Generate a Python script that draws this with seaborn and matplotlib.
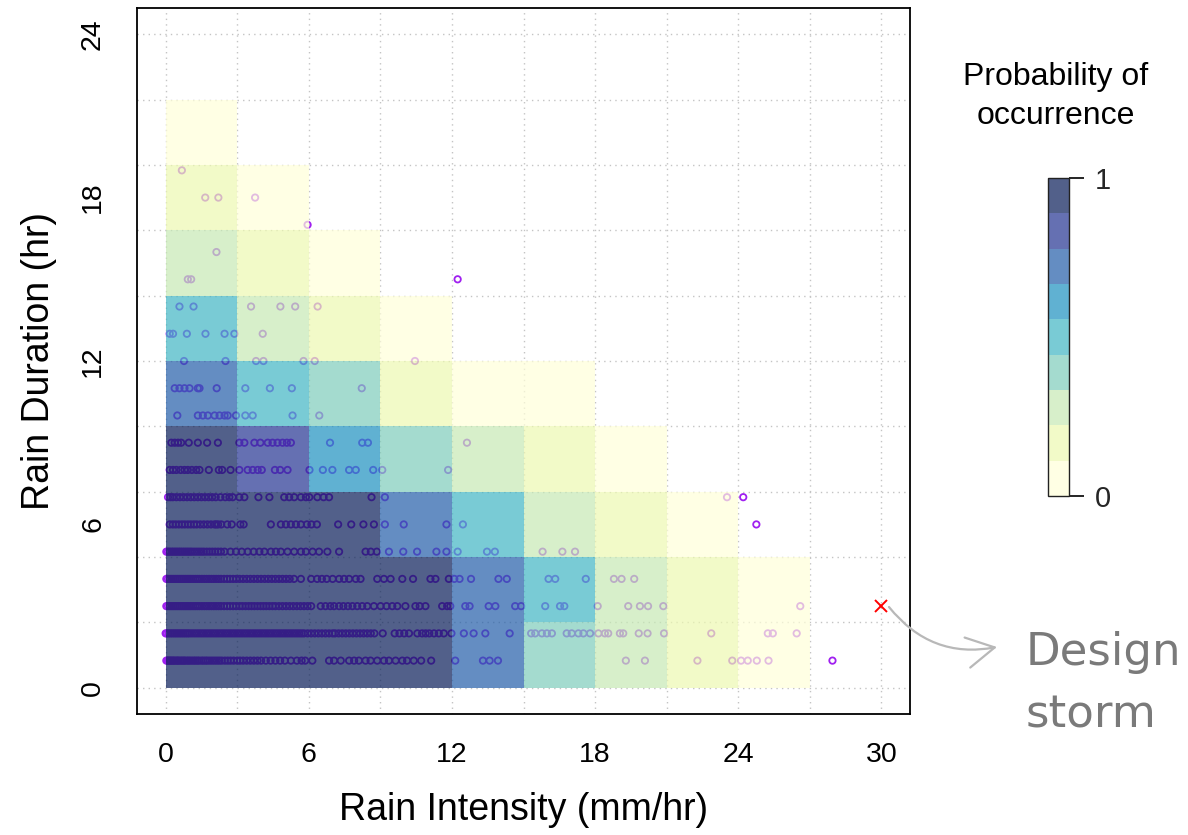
import numpy as np
import pandas as pd
import matplotlib
matplotlib.use("Agg")
import matplotlib as mpl
import matplotlib.pyplot as plt
from matplotlib.colors import ListedColormap, BoundaryNorm
from matplotlib.ticker import MultipleLocator, FixedLocator, NullLocator
import seaborn as sns

# ---------------- data ----------------
intensity_edges = [0, 3, 6, 9, 12, 15, 18, 21, 24, 27]
duration_edges = [0, 2.4, 4.8, 7.2, 9.6, 12.0, 14.4, 16.8, 19.2, 21.6]
nan = np.nan
# probability of occurrence: rows = duration bins (bottom -> top), cols = intensity bins
prob_row_0 = [0.95, 0.95, 0.95, 0.95, 0.72, 0.39, 0.28, 0.17, 0.05]
prob_row_1 = [0.95, 0.95, 0.95, 0.95, 0.72, 0.50, 0.28, 0.17, 0.05]
prob_row_2 = [0.95, 0.95, 0.95, 0.72, 0.50, 0.28, 0.17, 0.05, nan]
prob_row_3 = [0.95, 0.83, 0.61, 0.39, 0.28, 0.17, 0.05, nan, nan]
prob_row_4 = [0.72, 0.50, 0.39, 0.17, 0.05, 0.05, nan, nan, nan]
prob_row_5 = [0.50, 0.28, 0.17, 0.05, nan, nan, nan, nan, nan]
prob_row_6 = [0.28, 0.17, 0.05, nan, nan, nan, nan, nan, nan]
prob_row_7 = [0.17, 0.05, nan, nan, nan, nan, nan, nan, nan]
prob_row_8 = [0.05, nan, nan, nan, nan, nan, nan, nan, nan]

# observed storms: rain intensity (mm/hr) for each rain duration (hr)
dur_1 = [0.03, 0.08, 0.12, 0.18, 0.22, 0.28, 0.33, 0.38, 0.45, 0.5, 0.55, 0.62, 0.68, 0.75, 0.8,
         0.88, 0.95, 1.02, 1.1, 1.18, 1.25, 1.33, 1.4, 1.5, 1.58, 1.67, 1.75, 1.85, 1.95, 2.05,
         2.15, 2.25, 2.35, 2.48, 2.6, 2.72, 2.85, 3.0, 3.12, 3.25, 3.4, 3.55, 3.7, 3.85, 4.0,
         4.2, 4.4, 4.6, 4.8, 5.0, 5.25, 5.5, 5.7, 5.85, 6.15, 6.85, 7.06, 7.34, 7.69, 7.9, 8.1,
         8.38, 8.59, 8.87, 9.15, 9.36, 9.64, 9.92, 10.12, 10.4, 10.71, 11.13, 12.14, 13.3, 13.58,
         13.93, 19.29, 20.09, 22.29, 23.75, 24.12, 24.4, 24.78, 25.27, 27.95]
dur_2 = [0.0, 0.05, 0.12, 0.2, 0.28, 0.36, 0.44, 0.52, 0.6, 0.68, 0.76, 0.84, 0.92, 1.0, 1.1,
         1.2, 1.3, 1.4, 1.5, 1.6, 1.7, 1.8, 1.9, 2.0, 2.1, 2.2, 2.3, 2.4, 2.5, 2.6, 2.7, 2.8,
         2.9, 3.0, 3.1, 3.2, 3.3, 3.4, 3.5, 3.6, 3.7, 3.8, 3.9, 4.0, 4.1, 4.2, 4.3, 4.4, 4.5,
         4.6, 4.7, 4.8, 4.9, 5.0, 5.1, 5.2, 5.3, 5.4, 5.5, 5.6, 5.7, 5.8, 5.95, 6.1, 6.25, 6.4,
         6.55, 6.7, 6.85, 7.0, 7.1, 7.25, 7.4, 7.55, 7.7, 7.85, 8.0, 8.15, 8.3, 8.45, 8.6, 8.75,
         9.1, 9.6, 9.8, 10.0, 10.2, 10.55, 10.75, 10.9, 11.05, 11.25, 11.45, 11.66, 11.98, 12.5,
         12.91, 13.4, 14.42, 15.32, 15.49, 15.77, 15.98, 16.19, 16.81, 17.02, 17.3, 17.51, 17.79,
         18.14, 18.41, 18.55, 19.04, 19.18, 19.83, 20.2, 20.89, 22.87, 25.24, 25.45, 26.45]
dur_3 = [0.03, 0.1, 0.18, 0.26, 0.34, 0.42, 0.5, 0.58, 0.66, 0.74, 0.82, 0.9, 0.98, 1.06, 1.15,
         1.24, 1.33, 1.42, 1.52, 1.62, 1.72, 1.82, 1.92, 2.02, 2.12, 2.22, 2.32, 2.45, 2.58, 2.7,
         2.83, 2.96, 3.1, 3.22, 3.35, 3.48, 3.6, 3.72, 3.85, 3.98, 4.1, 4.22, 4.35, 4.48, 4.6,
         4.75, 4.9, 5.05, 5.2, 5.35, 5.5, 5.65, 5.8, 5.95, 6.1, 6.5, 6.7, 6.9, 7.06, 7.27, 7.45,
         7.64, 7.83, 8.03, 8.24, 8.45, 8.73, 9.01, 9.26, 9.5, 9.71, 10.05, 10.47, 10.65, 10.89,
         11.59, 11.8, 11.93, 12.56, 12.74, 13.54, 13.82, 14.65, 14.9, 15.91, 16.53, 16.71, 18.11,
         19.39, 19.88, 20.22, 20.86, 26.6]
dur_4 = [0.03, 0.1, 0.18, 0.26, 0.34, 0.42, 0.5, 0.58, 0.66, 0.74, 0.82, 0.9, 0.98, 1.06, 1.15,
         1.24, 1.33, 1.42, 1.52, 1.62, 1.72, 1.82, 1.92, 2.02, 2.12, 2.22, 2.32, 2.45, 2.58, 2.7,
         2.83, 2.96, 3.1, 3.25, 3.4, 3.55, 3.7, 3.85, 4.0, 4.15, 4.3, 4.45, 4.6, 4.75, 4.9, 5.05,
         5.2, 5.38, 5.67, 6.1, 6.35, 6.55, 6.75, 7.0, 7.27, 7.48, 7.69, 7.97, 8.17, 8.87, 9.15,
         9.43, 9.92, 10.37, 11.1, 11.31, 11.87, 12.1, 12.32, 12.8, 13.95, 14.3, 16.05, 16.33,
         17.61, 18.79, 19.11, 19.64]
dur_5 = [0.03, 0.1, 0.17, 0.25, 0.32, 0.4, 0.47, 0.55, 0.62, 0.7, 0.78, 0.86, 0.94, 1.02, 1.1,
         1.2, 1.3, 1.4, 1.5, 1.6, 1.72, 1.84, 1.96, 2.08, 2.2, 2.32, 2.47, 2.72, 2.95, 3.19, 3.44,
         3.69, 3.93, 4.14, 4.41, 4.62, 4.83, 5.11, 5.39, 5.67, 5.88, 6.16, 6.43, 6.78, 7.27, 8.38,
         8.6, 8.85, 9.36, 9.96, 10.54, 11.35, 11.77, 12.24, 13.47, 13.8, 15.8, 16.63, 17.16]
dur_6 = [0.17, 0.3, 0.42, 0.55, 0.68, 0.8, 0.93, 1.05, 1.18, 1.3, 1.45, 1.6, 1.75, 1.9, 2.05,
         2.12, 2.2, 2.33, 2.58, 2.77, 3.13, 3.27, 4.41, 4.83, 5.04, 5.25, 5.46, 5.67, 5.92, 6.11,
         6.34, 7.23, 7.78, 8.29, 8.73, 9.19, 9.98, 11.77, 12.46, 24.76]
dur_7 = [0.1, 0.2, 0.3, 0.45, 0.6, 0.75, 0.9, 1.05, 1.2, 1.35, 1.5, 1.65, 1.8, 1.95, 2.1, 2.3,
         2.5, 2.67, 2.81, 3.09, 3.3, 3.89, 4.35, 4.97, 5.18, 5.39, 5.67, 5.88, 6.02, 6.36, 6.62,
         6.85, 8.63, 9.19, 23.53, 24.21]
dur_8 = [0.17, 0.31, 0.45, 0.63, 0.79, 0.93, 1.1, 1.28, 1.42, 1.81, 2.23, 2.37, 2.72, 3.09, 3.44,
         3.65, 3.86, 4.03, 4.58, 4.8, 5.11, 6.03, 6.59, 6.99, 7.69, 7.97, 8.7, 9.08, 11.84]
dur_9 = [0.24, 0.38, 0.52, 0.65, 0.97, 1.35, 1.74, 2.19, 3.09, 3.3, 3.72, 3.97, 4.28, 4.48, 4.69,
         4.9, 5.08, 5.25, 6.89, 8.24, 8.48, 12.63]
dur_10 = [0.49, 1.35, 1.56, 1.77, 2.05, 2.26, 2.47, 2.6, 2.95, 3.34, 3.65, 5.32, 6.44]
dur_11 = [0.38, 0.58, 0.79, 1.0, 1.35, 1.42, 2.14, 3.34, 4.37, 5.29, 8.22]
dur_12 = [0.77, 2.51, 3.79, 4.1, 5.78, 6.25, 10.45]
dur_13 = [0.17, 0.31, 0.89, 1.67, 2.47, 2.88, 4.07]
dur_14 = [0.58, 1.17, 3.58, 4.81, 5.43, 6.37]
dur_15 = [0.93, 1.07, 12.24]
dur_16 = [2.13]
dur_17 = [5.95]
dur_18 = [1.66, 2.21, 3.75]
dur_19 = [0.68]

design_intensity = [30.0]
design_duration = [3.0]

x_ticks = [0, 6, 12, 18, 24, 30]
y_ticks = [0, 6, 12, 18, 24]

# ---------------- build tables ----------------
storm_lists = [dur_1, dur_2, dur_3, dur_4, dur_5, dur_6, dur_7, dur_8, dur_9, dur_10,
               dur_11, dur_12, dur_13, dur_14, dur_15, dur_16, dur_17, dur_18, dur_19]
rows = []
for d, vals in enumerate(storm_lists, start=1):
    for v in vals:
        rows.append((v, d))
storms = pd.DataFrame(rows, columns=["intensity", "duration"])
prob = np.array([prob_row_0, prob_row_1, prob_row_2, prob_row_3, prob_row_4,
                 prob_row_5, prob_row_6, prob_row_7, prob_row_8])

# ---------------- style ----------------
sns.set_style("white")
plt.rcParams["font.family"] = ["Liberation Sans", "DejaVu Sans"]

W, H = 1188, 835
fig = plt.figure(figsize=(W / 100, H / 100), dpi=100)
ax = fig.add_axes([137 / W, 121 / H, 773 / W, 706 / H])

base = plt.get_cmap("YlGnBu")(np.linspace(0, 1, 9))
base[:, 3] = 0.7
cmap = ListedColormap(base)
norm = BoundaryNorm(np.linspace(0, 1, 10), cmap.N)

# grid (dotted)
ax.xaxis.set_minor_locator(MultipleLocator(3))
ax.yaxis.set_minor_locator(FixedLocator([0, 2.4, 4.8, 7.2, 9.6, 12, 14.4, 16.8, 19.2, 21.6, 24]))
ax.xaxis.remove_overlapping_locs = False
ax.yaxis.remove_overlapping_locs = False
ax.grid(False, which="major")
ax.grid(True, which="minor", color="#c4c4c4", linestyle=(0, (1, 3)), linewidth=1.0)
ax.set_axisbelow(True)

# points (drawn under the semi-transparent tiles)
sns.scatterplot(data=storms, x="intensity", y="duration", ax=ax, marker="o", s=21,
                facecolor="none", edgecolor="#A020F0", linewidth=1.3, zorder=1, legend=False)

# probability tiles
mesh = ax.pcolormesh(intensity_edges, duration_edges, np.ma.masked_invalid(prob),
                     cmap=cmap, norm=norm, zorder=2, edgecolors="none", antialiased=False)

# design storm
ax.plot(design_intensity, design_duration, marker="x", color="red", markersize=8,
        markeredgewidth=1.4, linestyle="none", zorder=4)

ax.set_xlim(-1.2, 31.2)
ax.set_ylim(-0.96, 24.96)
ax.set_xticks(x_ticks)
ax.set_yticks(y_ticks)
ax.tick_params(axis="both", which="major", direction="out", length=10.8, width=1.2,
               color="black", labelsize=20.5, labelcolor="black")
ax.tick_params(axis="x", which="major", pad=9)
ax.tick_params(axis="y", which="major", pad=11.5, labelrotation=90)
ax.tick_params(which="minor", length=0)
for lab in ax.get_yticklabels():
    lab.set_va("center")
for s in ax.spines.values():
    s.set_color("black")
    s.set_linewidth(1.3)

ax.set_xlabel("Rain Intensity (mm/hr)", fontsize=27, color="black")
ax.set_ylabel("Rain Duration (hr)", fontsize=27, color="black")
ax.xaxis.set_label_coords(0.5, -0.11)
ax.yaxis.set_label_coords(-0.103, 0.5)

# colorbar
cax = fig.add_axes([1048 / W, (H - 496) / H, 20.5 / W, 318 / H])
cb = mpl.colorbar.ColorbarBase(cax, cmap=cmap, norm=norm, ticks=[0, 1],
                               boundaries=np.linspace(0, 1, 10), orientation="vertical")
cb.set_ticklabels(["0", "1"])
cax.yaxis.set_minor_locator(NullLocator())
cb.outline.set_edgecolor("#222222")
cb.outline.set_linewidth(1.0)
cax.tick_params(axis="y", which="major", length=10.8, width=1.2, color="black", labelsize=21,
                pad=8, right=True, left=False, labelright=True, labelleft=False)
cax.tick_params(axis="y", which="minor", length=0)
fig.text(1056 / W, 1 - 62 / H, "Probability of\noccurrence", ha="center", va="top",
         fontsize=23, linespacing=1.38, color="black")

# annotation
ax.annotate("", xy=(997, H - 647), xycoords="figure pixels",
            xytext=(889, H - 607), textcoords="figure pixels",
            arrowprops=dict(arrowstyle="->,head_length=1.0,head_width=0.55",
                            color="#b8b8b8", lw=1.6, mutation_scale=20,
                            connectionstyle="arc3,rad=0.3", shrinkA=0, shrinkB=0),
            annotation_clip=False)
fig.text(1026 / W, (H - 665) / H, "Design", ha="left", va="baseline",
         fontsize=32.5, color="#7a7a7a", family=["DejaVu Sans"])
fig.text(1026 / W, (H - 728) / H, "storm", ha="left", va="baseline",
         fontsize=32.5, color="#7a7a7a", family=["DejaVu Sans"])

fig.savefig("out.png", dpi=100)
